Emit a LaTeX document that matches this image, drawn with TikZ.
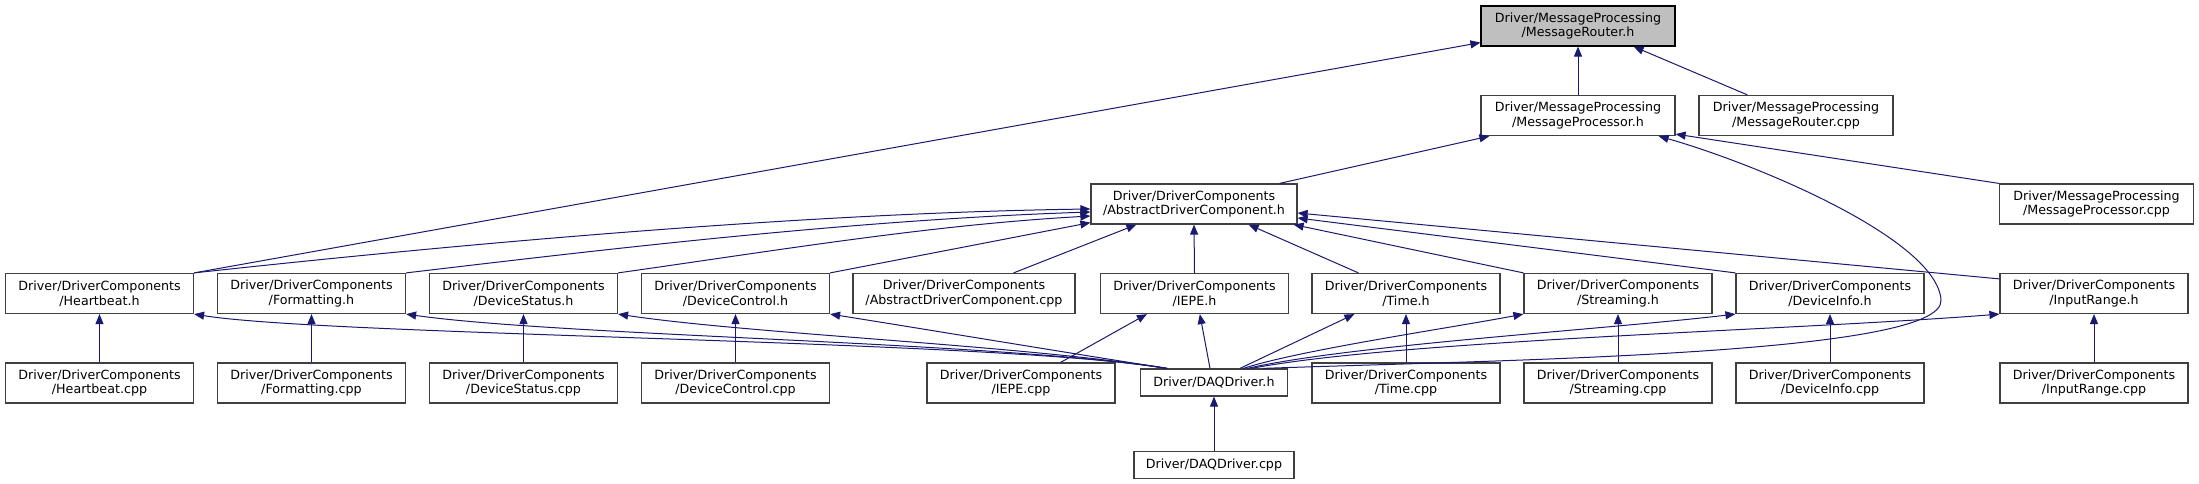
\documentclass[tikz,border=0pt]{standalone}
\usepackage{fontspec}
\setmainfont{DejaVu Sans}
\usetikzlibrary{arrows.meta, positioning, calc}
\definecolor{edgeblue}{HTML}{191970}
\definecolor{boxline}{HTML}{404040}
\definecolor{rootfill}{HTML}{BFBFBF}

\begin{document}
\begin{tikzpicture}[
    x=0.75pt, y=-0.75pt,
    file/.style={rectangle, draw=boxline, fill=white, line width=0.9pt, inner sep=0pt,
                 minimum width=141pt, minimum height=30pt, align=center,
                 font=\fontsize{9.5}{11}\selectfont},
    wide/.style={file, minimum width=145.5pt},
    root/.style={wide, fill=rootfill, draw=black},
    oneline/.style={file, minimum height=20.25pt},
    incl/.style={-{Triangle[length=7.5pt, width=6pt]}, draw=edgeblue, line width=0.75pt}
]
\useasboundingbox (0,0) rectangle (2199,484);

\node[root] (router)    at (1578,26)    {Driver/MessageProcessing\\/MessageRouter.h};
\node[wide] (proc)      at (1578,115.5) {Driver/MessageProcessing\\/MessageProcessor.h};
\node[wide] (routercpp) at (1796,115.5) {Driver/MessageProcessing\\/MessageRouter.cpp};
\node[file, minimum width=154.5pt] (abs) at (1194,204) {Driver/DriverComponents\\/AbstractDriverComponent.h};
\node[wide] (proccpp)   at (2096.5,204) {Driver/MessageProcessing\\/MessageProcessor.cpp};

\node[file] (hbh)    at (99.5,293.5)  {Driver/DriverComponents\\/Heartbeat.h};
\node[file] (fmth)   at (311.5,293.5) {Driver/DriverComponents\\/Formatting.h};
\node[file] (dstath) at (523.5,293.5) {Driver/DriverComponents\\/DeviceStatus.h};
\node[file] (dctlh)  at (735.5,293.5) {Driver/DriverComponents\\/DeviceControl.h};
\node[file, minimum width=166.5pt] (abscpp) at (964,293.5) {Driver/DriverComponents\\/AbstractDriverComponent.cpp};
\node[file] (iepeh)  at (1194.5,293.5) {Driver/DriverComponents\\/IEPE.h};
\node[file] (timeh)  at (1406,293.5)  {Driver/DriverComponents\\/Time.h};
\node[file] (strmh)  at (1618,293.5)  {Driver/DriverComponents\\/Streaming.h};
\node[file] (dinfoh) at (1830,293.5)  {Driver/DriverComponents\\/DeviceInfo.h};
\node[file] (rangeh) at (2094,293.5)  {Driver/DriverComponents\\/InputRange.h};

\node[file] (hbcpp)    at (99.5,383)  {Driver/DriverComponents\\/Heartbeat.cpp};
\node[file] (fmtcpp)   at (311.5,383) {Driver/DriverComponents\\/Formatting.cpp};
\node[file] (dstatcpp) at (523.5,383) {Driver/DriverComponents\\/DeviceStatus.cpp};
\node[file] (dctlcpp)  at (735.5,383) {Driver/DriverComponents\\/DeviceControl.cpp};
\node[file] (iepecpp)  at (1021,383)  {Driver/DriverComponents\\/IEPE.cpp};
\node[oneline, minimum width=110pt] (daqh) at (1214,382.5) {Driver/DAQDriver.h};
\node[file] (timecpp)  at (1406,383)  {Driver/DriverComponents\\/Time.cpp};
\node[file] (strmcpp)  at (1618,383)  {Driver/DriverComponents\\/Streaming.cpp};
\node[file] (dinfocpp) at (1830,383)  {Driver/DriverComponents\\/DeviceInfo.cpp};
\node[file] (rangecpp) at (2094,383)  {Driver/DriverComponents\\/InputRange.cpp};
\node[oneline, minimum width=120pt] (daqcpp) at (1214,465) {Driver/DAQDriver.cpp};

\draw[incl] (proc.north) -- (router.south);
\draw[incl] ([xshift=36.75pt]routercpp.north west) -- ([xshift=-31.5pt]router.south east);
\draw[incl] (hbh.north east) -- ([yshift=3pt]router.south west);
\draw[incl] ([xshift=-13.5pt]abs.north east) -- ([xshift=6.75pt]proc.south west);
\draw[incl] (proccpp.north west) -- ([yshift=1.5pt]proc.south east);
\draw[incl] ([xshift=-18.75pt]daqh.north east) .. controls (1500,360) and (1945,355) .. (1941,300)
            .. controls (1937,240) and (1760,165) .. ([xshift=-12.75pt]proc.south east);

\draw[incl] (hbh.north east) .. controls (450,245) and (800,213) .. ([yshift=-3.75pt]abs.west);
\draw[incl] (fmth.north east) .. controls (600,250) and (850,220) .. ([yshift=-6pt]abs.west);
\draw[incl] (dstath.north east) .. controls (780,250) and (930,225) .. ([yshift=-9pt]abs.west);
\draw[incl] (dctlh.north east) -- ([yshift=1.5pt]abs.south west);
\draw[incl] ([xshift=-46.5pt]abscpp.north east) -- ([xshift=34.5pt]abs.south west);
\draw[incl] (iepeh.north) -- (abs.south);
\draw[incl] ([xshift=35.25pt]timeh.north west) -- ([xshift=-36.75pt]abs.south east);
\draw[incl] (strmh.north west) -- ([xshift=-3pt]abs.south east);
\draw[incl] (dinfoh.north west) -- ([yshift=-10.5pt]abs.east);
\draw[incl] ([yshift=-4.5pt]rangeh.north west) -- ([yshift=-6.75pt]abs.east);

\draw[incl] (hbcpp.north) -- (hbh.south);
\draw[incl] (fmtcpp.north) -- (fmth.south);
\draw[incl] (dstatcpp.north) -- (dstath.south);
\draw[incl] (dctlcpp.north) -- (dctlh.south);
\draw[incl] ([xshift=-41.25pt]iepecpp.north east) -- ([xshift=35.25pt]iepeh.south west);
\draw[incl] (timecpp.north) -- (timeh.south);
\draw[incl] (strmcpp.north) -- (strmh.south);
\draw[incl] (dinfocpp.north) -- (dinfoh.south);
\draw[incl] (rangecpp.north) -- (rangeh.south);
\draw[incl] (daqcpp.north) -- (daqh.south);

\draw[incl] ([xshift=20.25pt]daqh.north west) .. controls (1000,340) and (330,336) .. (hbh.south east);
\draw[incl] ([xshift=20.25pt]daqh.north west) .. controls (1000,342) and (560,336) .. (fmth.south east);
\draw[incl] ([xshift=20.25pt]daqh.north west) .. controls (1020,345) and (750,334) .. (dstath.south east);
\draw[incl] ([xshift=20.25pt]daqh.north west) .. controls (1050,350) and (930,330) .. (dctlh.south east);
\draw[incl] ([xshift=-3pt]daqh.north) -- ([xshift=4pt]iepeh.south);
\draw[incl] ([xshift=19.5pt]daqh.north) -- ([xshift=32.25pt]timeh.south west);
\draw[incl] ([xshift=22pt]daqh.north) .. controls (1300,350) and (1450,328) .. (strmh.south west);
\draw[incl] ([xshift=25pt]daqh.north) .. controls (1350,345) and (1600,330) .. (dinfoh.south west);
\draw[incl] ([xshift=28pt]daqh.north) .. controls (1400,340) and (1800,330) .. (rangeh.south west);
\end{tikzpicture}
\end{document}
